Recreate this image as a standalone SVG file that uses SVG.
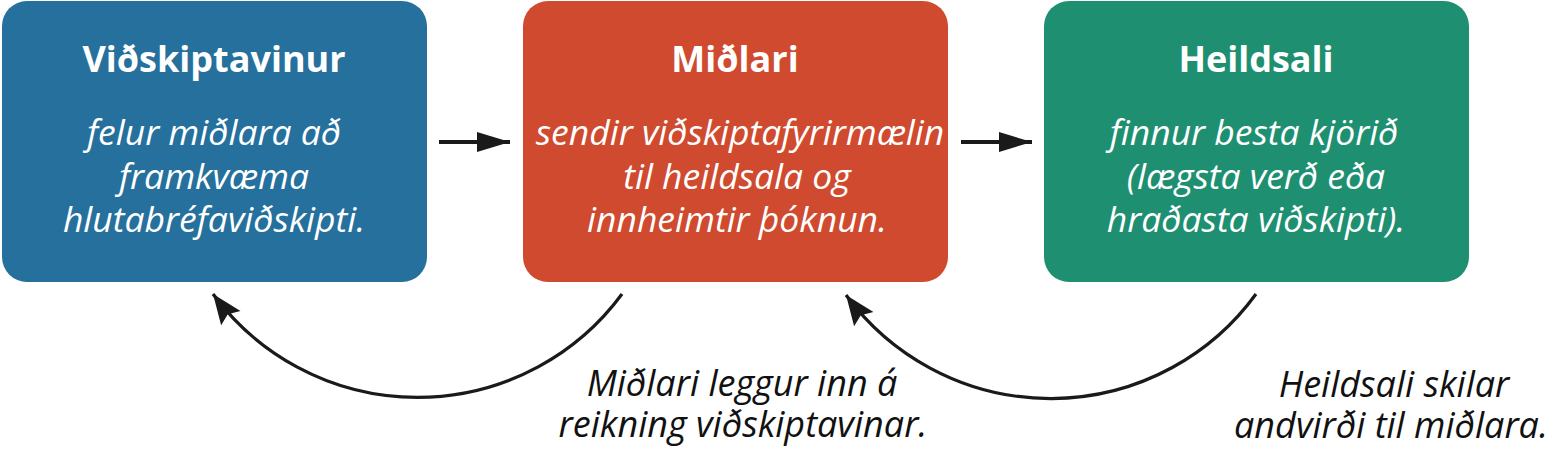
<svg xmlns="http://www.w3.org/2000/svg" width="1557" height="452" viewBox="0 0 1557 452">
<style>
.title{font-family:"Open Sans","Noto Sans",sans-serif;font-weight:700;font-size:36px;fill:#fff;text-anchor:middle}
.body{font-family:"Open Sans","Noto Sans",sans-serif;font-style:italic;font-size:35.5px;fill:#fff;text-anchor:middle}
.lbl{font-family:"Open Sans","Noto Sans",sans-serif;font-style:italic;font-size:36px;fill:#111;text-anchor:middle}
.straight{fill:none;stroke:#1a1a1a;stroke-width:4}
.curve{fill:none;stroke:#1a1a1a;stroke-width:3.2}
</style>
<defs>
<marker id="hs" markerUnits="userSpaceOnUse" markerWidth="40" markerHeight="30" viewBox="-34 -15 40 30" refX="0" refY="0" orient="auto">
<path d="M0,0 L-33,-10 L-33,10 Z" fill="#1a1a1a"/>
</marker>
<marker id="hc" markerUnits="userSpaceOnUse" markerWidth="40" markerHeight="40" viewBox="-34 -20 40 40" refX="0" refY="0" orient="auto">
<path d="M0,0 L-30,-12 L-25,0 L-30,12 Z" fill="#1a1a1a"/>
</marker>
</defs>
<rect width="1557" height="452" fill="#fff"/>
<g id="node-client">
<rect x="2" y="1" width="425" height="281" rx="25" fill="#25709c"/>
<text class="title" x="214" y="72">Viðskiptavinur</text>
<text class="body" x="214" y="145">felur miðlara að</text>
<text class="body" x="214" y="188.5">framkvæma</text>
<text class="body" x="214" y="232">hlutabréfaviðskipti.</text>
</g>
<g id="node-broker">
<rect x="523" y="1" width="425" height="281" rx="25" fill="#cf4a2e"/>
<text class="title" x="735" y="72">Miðlari</text>
<text class="body" x="740" y="145">sendir viðskiptafyrirmælin</text>
<text class="body" x="737" y="188.5">til heildsala og</text>
<text class="body" x="737" y="232">innheimtir þóknun.</text>
</g>
<g id="node-wholesaler">
<rect x="1044" y="1" width="425" height="281" rx="25" fill="#1f8f71"/>
<text class="title" x="1256" y="72">Heildsali</text>
<text class="body" x="1254" y="145">finnur besta kjörið</text>
<text class="body" x="1256" y="188.5">(lægsta verð eða</text>
<text class="body" x="1256" y="232">hraðasta viðskipti).</text>
</g>
<g id="connectors">
<path class="straight" d="M439,142 L510,142" marker-end="url(#hs)"/>
<path class="straight" d="M961,142 L1032,142" marker-end="url(#hs)"/>
<path class="curve" d="M622,294 A254,254 0 0 1 213,294" marker-end="url(#hc)"/>
<path class="curve" d="M1256,294 A254,254 0 0 1 846,295" marker-end="url(#hc)"/>
</g>
<g id="labels">
<text class="lbl" x="742" y="396">Miðlari leggur inn á</text>
<text class="lbl" x="743" y="437">reikning viðskiptavinar.</text>
<text class="lbl" x="1394" y="397">Heildsali skilar</text>
<text class="lbl" x="1391" y="438">andvirði til miðlara.</text>
</g>
</svg>
